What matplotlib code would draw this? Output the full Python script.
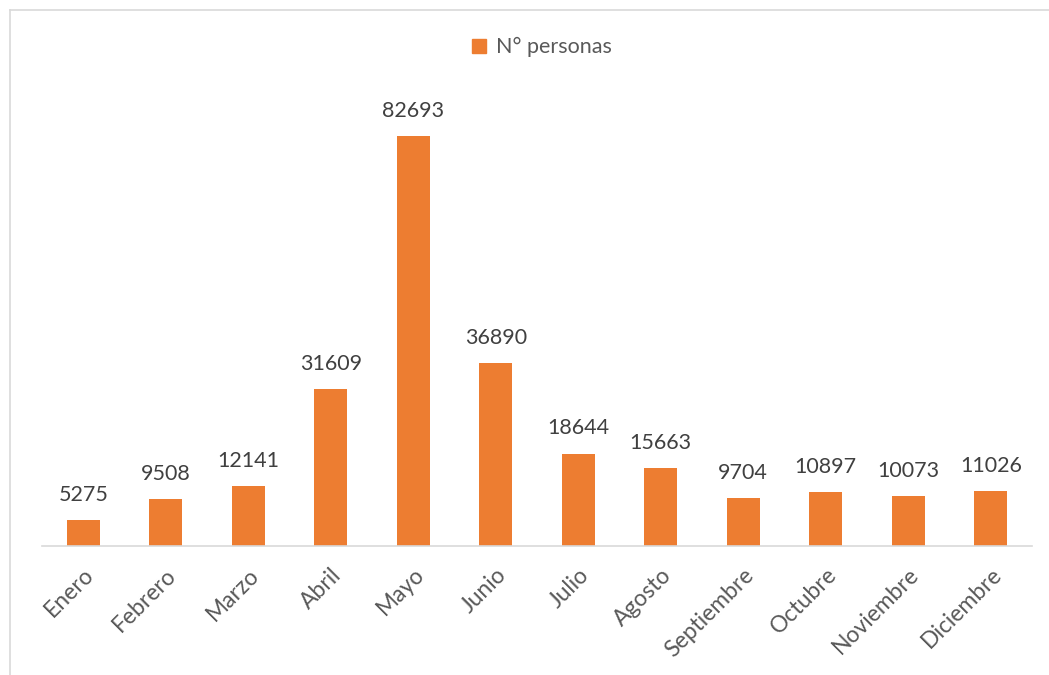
import matplotlib.pyplot as plt
from matplotlib.lines import Line2D

plt.rcParams['font.family'] = ['Lato', 'DejaVu Sans']

# Data
meses = ["Enero", "Febrero", "Marzo", "Abril", "Mayo", "Junio", "Julio",
         "Agosto", "Septiembre", "Octubre", "Noviembre", "Diciembre"]
personas = [5275, 9508, 12141, 31609, 82693, 36890, 18644,
            15663, 9704, 10897, 10073, 11026]
serie = "N° personas"

naranja = "#ED7D31"
gris = "#595959"

fig = plt.figure(figsize=(10.49, 6.75), dpi=100)
ax = fig.add_axes([42 / 1049, 1 - 546 / 675, 990 / 1049, 446 / 675])

x = range(len(meses))
bars = ax.bar(x, personas, width=0.4, color=naranja, label=serie)

for b, v in zip(bars, personas):
    ax.annotate(str(v), (b.get_x() + b.get_width() / 2, v),
                xytext=(0, 11), textcoords="offset points",
                ha="center", va="bottom", fontsize=15.5, color="#404040")

ax.set_xlim(-0.5, len(meses) - 0.5)
ax.set_ylim(0, 90000)
ax.set_xticks(list(x))
ax.set_xticklabels(meses, rotation=45, ha="right", rotation_mode="anchor",
                   fontsize=16.5, color=gris)
ax.tick_params(axis="x", length=0, pad=13)
ax.set_yticks([])
for s in ["top", "right", "left"]:
    ax.spines[s].set_visible(False)
ax.spines["bottom"].set_color("#D9D9D9")
ax.spines["bottom"].set_linewidth(1.2)

# Legend at top
ax.legend(handles=[Line2D([], [], marker="s", color=naranja, linestyle="none",
                          markersize=9.5)],
          labels=[serie], loc="center", bbox_to_anchor=(540 / 1049, 1 - 47 / 675),
          bbox_transform=fig.transFigure, frameon=False, fontsize=15.5,
          labelcolor=gris, handletextpad=0.3, handlelength=1.0)

# Chart frame (top and left visible)
fig.add_artist(Line2D([10 / 1049, 10 / 1049], [0, 1 - 10 / 675],
                      color="#D9D9D9", linewidth=1.2, transform=fig.transFigure))
fig.add_artist(Line2D([10 / 1049, 1], [1 - 10 / 675, 1 - 10 / 675],
                      color="#D9D9D9", linewidth=1.2, transform=fig.transFigure))

plt.savefig("out.png", dpi=100)
